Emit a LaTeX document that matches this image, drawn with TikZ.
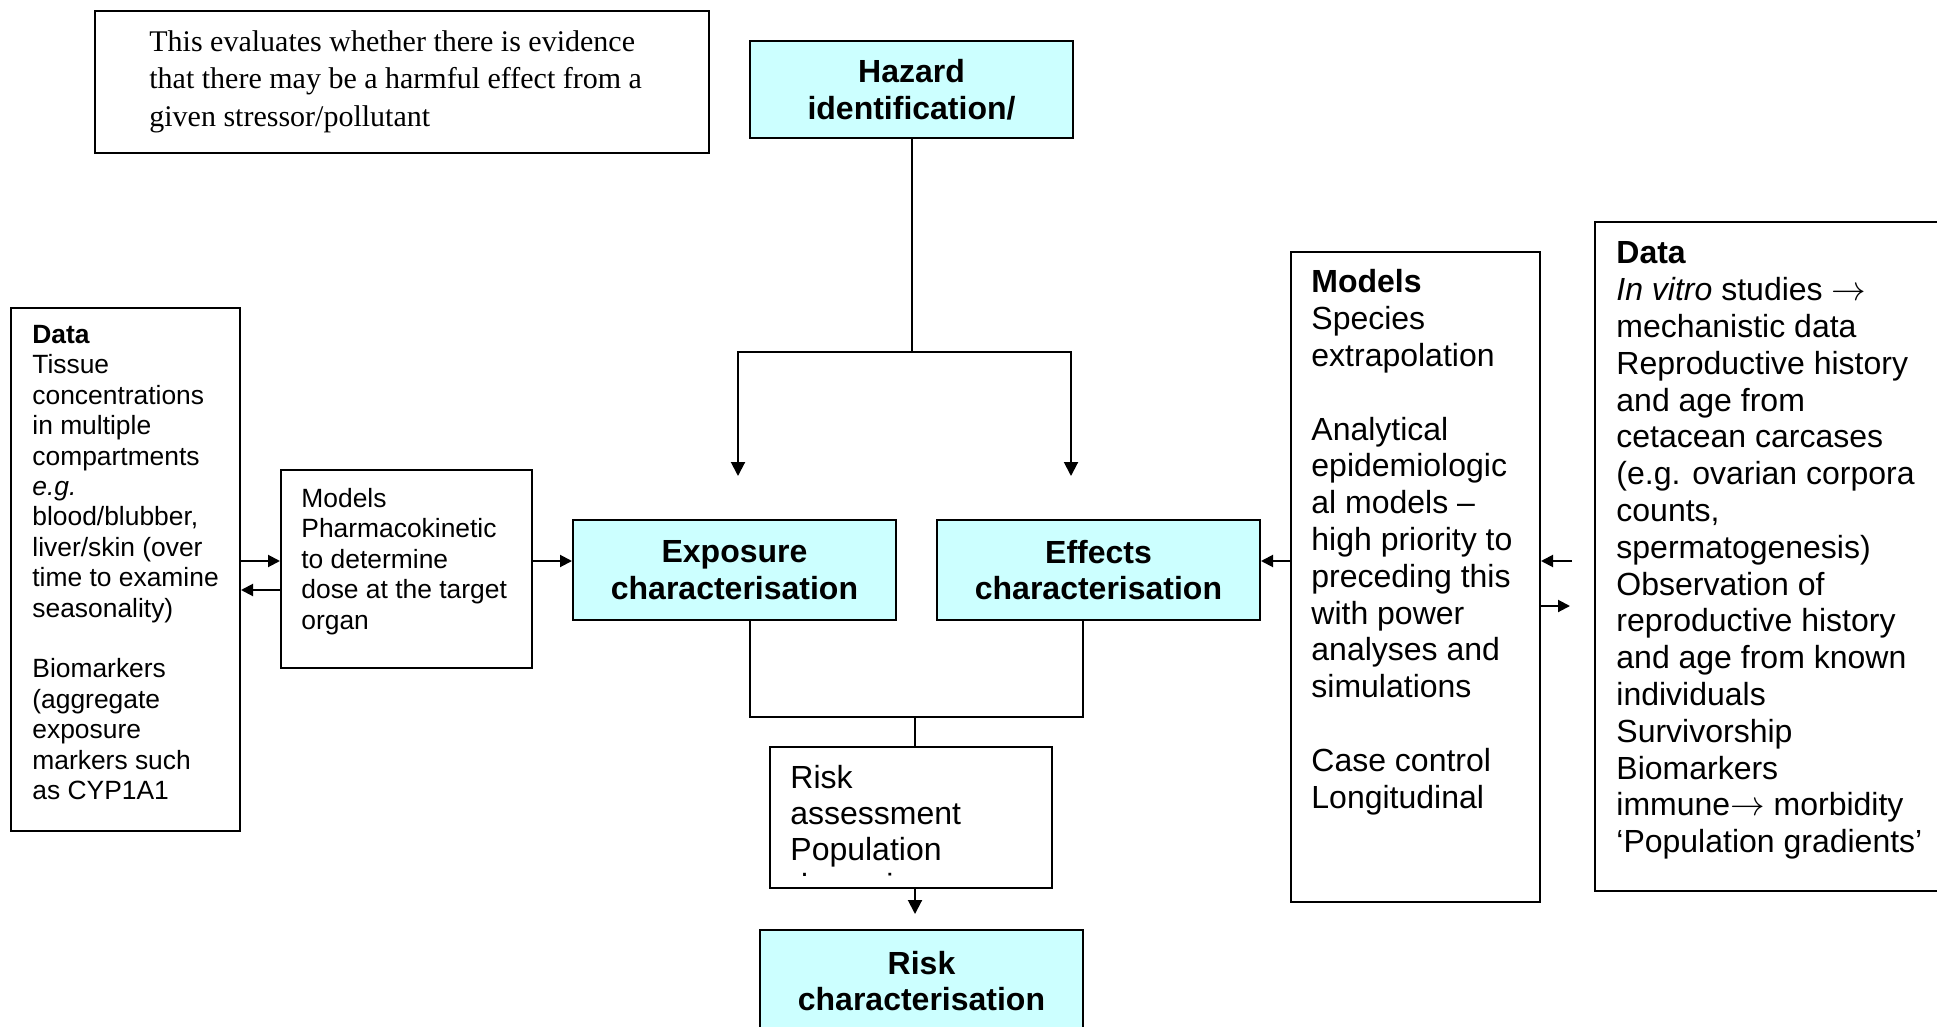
\documentclass[tikz,border=0pt]{standalone}
\usepackage{fontspec}
\setmainfont{Liberation Sans}
\newfontfamily\timesfont{Liberation Serif}
\usepackage{tikz}
\usetikzlibrary{arrows.meta}
\definecolor{boxcyan}{RGB}{204,255,255}

\begin{document}
\begin{tikzpicture}[
  x=1pt, y=-1pt,
  box/.style={draw, line width=1pt, anchor=north west, inner sep=0pt},
  stage/.style={box, fill=boxcyan, align=center, font=\bfseries\fontsize{16}{18.4}\selectfont},
  txt/.style={anchor=north west, inner sep=0pt, align=left},
  big/.style={font=\fontsize{16}{18.4}\selectfont},
  sml/.style={font=\fontsize{13.2}{15.2}\selectfont},
  ln/.style={line width=1pt},
  pr/.style={ln, -{Triangle[length=7pt, width=7pt]}},
  prs/.style={ln, -{Triangle[length=6pt, width=6pt]}}
]
  \useasboundingbox (0,0) rectangle (968.5,513.5);

  % frames
  \node[box, minimum width=307pt, minimum height=71pt] (note) at (47,5) {};
  \node[stage, minimum width=161.5pt, minimum height=48.5pt] (haz) at (374.5,20) {Hazard\\identification/};
  \node[stage, minimum width=161.5pt, minimum height=50pt] (expo) at (286,259.5) {Exposure\\characterisation};
  \node[stage, minimum width=161.5pt, minimum height=50pt] (eff) at (468,259.5) {Effects\\characterisation};
  \node[box, minimum width=141pt, minimum height=70.5pt] (riskass) at (384.5,373) {};
  \node[stage, minimum width=161.5pt, minimum height=51pt] (riskch) at (379.5,464.5) {Risk\\characterisation};
  \node[box, minimum width=114.5pt, minimum height=261.5pt] (ldata) at (5,153.5) {};
  \node[box, minimum width=125.5pt, minimum height=99pt] (lmod) at (140,234.5) {};
  \node[box, minimum width=124.5pt, minimum height=325pt] (rmod) at (645,125.5) {};
  \node[box, minimum width=200pt, minimum height=334.5pt] (rdata) at (797,110.5) {};

  % texts
  \node[txt, font=\timesfont\fontsize{15}{18.75}\selectfont] (notetxt) at ([shift={(27.5pt,-10pt)}]note.north west)
    {This evaluates whether there is evidence\\that there may be a harmful effect from a\\given stressor/pollutant};
  \node[txt, sml] (ldatatxt) at ([shift={(11pt,-9pt)}]ldata.north west)
    {\textbf{Data}\\Tissue\\concentrations\\in multiple\\compartments\\\textit{e.g.}\\blood/blubber,\\liver/skin (over\\time to examine\\seasonality)\\[15.2pt]
     Biomarkers\\(aggregate\\exposure\\markers such\\as CYP1A1};
  \node[txt, sml] (lmodtxt) at ([shift={(10.5pt,-9.5pt)}]lmod.north west)
    {Models\\Pharmacokinetic\\to determine\\dose at the target\\organ};
  \node[txt, big] (rmodtxt) at ([shift={(10.5pt,-9.2pt)}]rmod.north west)
    {\textbf{Models}\\Species\\extrapolation\\[18.4pt]Analytical\\epidemiologic\\al models --\\high priority to\\preceding this\\with power\\analyses and\\simulations\\[18.4pt]
     Case control\\Longitudinal};
  \node[txt, big] (rdatatxt) at ([shift={(11pt,-10.2pt)}]rdata.north west)
    {\textbf{Data}\\\textit{In vitro} studies $\rightarrow$\\mechanistic data\\Reproductive history\\and age from\\cetacean carcases\\(e.g. ovarian corpora\\counts,\\spermatogenesis)\\Observation of\\reproductive history\\and age from known\\individuals\\Survivorship\\Biomarkers\\immune$\rightarrow$ morbidity\\‘Population gradients’};
  \begin{scope}
    \clip ([yshift=7pt]riskass.south west) rectangle (riskass.north east);
    \node[txt, font=\fontsize{16}{18}\selectfont] (riskasstxt) at ([shift={(10.5pt,-9.5pt)}]riskass.north west)
      {Risk\\assessment\\Population\\dynamics};
  \end{scope}

  % connectors
  \coordinate (fork) at ([yshift=-106.5pt]haz.south);
  \coordinate (expotip) at (369,238);
  \coordinate (efftip) at (535.5,238);
  \coordinate (join) at (457.5,358.5);
  \coordinate (lvlA) at (0,280.5);
  \coordinate (lvlB) at (0,295);
  \coordinate (lvlC) at (0,303);

  \draw[ln] (haz.south) -- (fork);
  \draw[pr] (fork) -| (expotip);
  \draw[pr] (fork) -| (efftip);

  \draw[ln] ([xshift=7.75pt]expo.south) |- (join) -| ([xshift=-7.75pt]eff.south);
  \draw[ln] (join) -- (join |- riskass.north);
  \draw[pr, shorten >=7.5pt] (join |- riskass.south) -- (join |- riskch.north);

  \draw[prs] (ldata.east |- lvlA) -- (lmod.west |- lvlA);
  \draw[prs] (lmod.west |- lvlB) -- (ldata.east |- lvlB);
  \draw[prs] (lmod.east |- lvlA) -- (expo.west |- lvlA);
  \draw[prs] (rmod.west |- lvlA) -- (eff.east |- lvlA);
  \draw[prs, shorten <=11pt] (rdata.west |- lvlA) -- (rmod.east |- lvlA);
  \draw[prs, shorten >=12pt] (rmod.east |- lvlC) -- (rdata.west |- lvlC);
\end{tikzpicture}
\end{document}
